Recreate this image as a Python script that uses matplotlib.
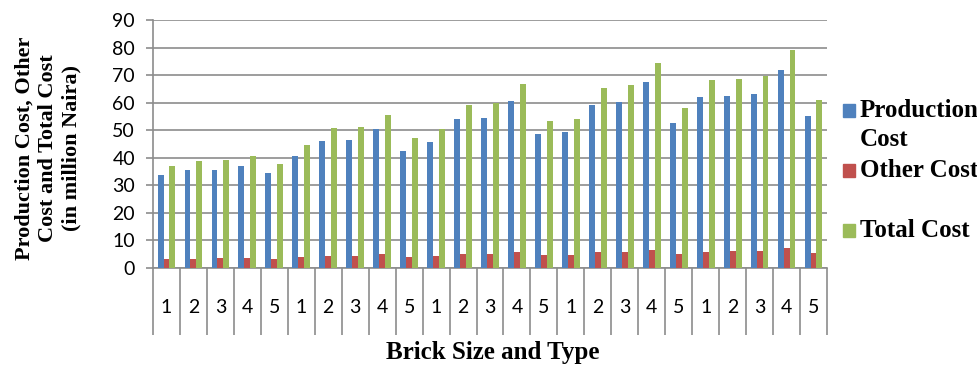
import numpy as np
import matplotlib.pyplot as plt
from matplotlib.patches import Rectangle

# brick size groups (1-5) x brick type (1-5)
types = ["1", "2", "3", "4", "5"] * 5
production = [33.7, 35.5, 35.6, 37.1, 34.4,
              40.7, 46.1, 46.5, 50.6, 42.6,
              45.8, 54.0, 54.6, 60.6, 48.6,
              49.2, 59.1, 60.2, 67.6, 52.8,
              62.0, 62.4, 63.2, 71.8, 55.2]
other = [3.3, 3.4, 3.5, 3.6, 3.3,
         3.9, 4.4, 4.5, 5.0, 4.1,
         4.4, 5.2, 5.2, 5.8, 4.6,
         4.6, 5.7, 5.8, 6.7, 5.1,
         5.9, 6.1, 6.2, 7.1, 5.3]
total = [36.9, 38.9, 39.2, 40.7, 37.8,
         44.6, 50.9, 51.2, 55.5, 47.0,
         50.4, 59.2, 60.0, 66.6, 53.4,
         54.0, 65.2, 66.3, 74.4, 58.0,
         68.2, 68.6, 69.8, 79.1, 60.8]

series = [(["Production", "Cost"], production, "#4F81BD"),
          (["Other Cost"], other, "#C0504D"),
          (["Total Cost"], total, "#9BBB59")]

serif = ["Liberation Serif", "DejaVu Serif"]
sans = ["Lato", "DejaVu Sans"]

W, H = 978, 366
fig = plt.figure(figsize=(W / 100, H / 100), dpi=100)
ax = fig.add_axes([153 / W, 1 - 268 / H, 674 / W, 248 / H])

x = np.arange(len(types))
w = 0.22
for i, (name, vals, col) in enumerate(series):
    ax.bar(x + (i - 1) * w, vals, w, color=col, zorder=3)

ax.set_xlim(-0.5, len(types) - 0.5)
ax.set_ylim(0, 90)
ax.set_yticks(range(0, 91, 10))
ax.grid(axis="y", color="#8c8c8c", linewidth=1.2, zorder=0)
for s in ["top", "right"]:
    ax.spines[s].set_visible(False)
for s in ["left", "bottom"]:
    ax.spines[s].set_color("#8c8c8c")
    ax.spines[s].set_linewidth(1.2)
ax.tick_params(axis="y", length=5, color="#8c8c8c", width=1.2, pad=8,
               labelsize=14)

# category labels centred, separators between groups
ax.set_xticks(x)
ax.set_xticklabels(types)
ax.set_xticks(np.arange(-0.5, len(types)), minor=True)
ax.tick_params(axis="x", which="major", length=0, pad=22, labelsize=14)
ax.tick_params(axis="x", which="minor", length=48, color="#8c8c8c", width=1.2)
for lab in ax.get_xticklabels() + ax.get_yticklabels():
    lab.set_family(sans)

# y axis title, one text per line
ylines = ["Production Cost, Other", "Cost and Total Cost", "(in million Naira)"]
for xp, line in zip([25, 48, 71], ylines):
    fig.text(xp / W, 1 - 148 / H, line, rotation=90, ha="center",
             va="center", family=serif, fontweight="bold", fontsize=16)

fig.text(493 / W, 1 - 359 / H, "Brick Size and Type", ha="center",
         va="baseline", family=serif, fontweight="bold", fontsize=18)

# legend drawn by hand to keep the uneven row spacing
for k, (lines, vals, col) in enumerate(series):
    base = 117 + 60 * k
    fig.patches.append(Rectangle((843 / W, 1 - base / H), 12 / W, 13 / H,
                                 color=col, transform=fig.transFigure))
    for j, line in enumerate(lines):
        fig.text(860 / W, 1 - (base + 29 * j) / H, line, ha="left",
                 va="baseline", family=serif, fontweight="bold", fontsize=18)

fig.savefig("out.png", dpi=100)
